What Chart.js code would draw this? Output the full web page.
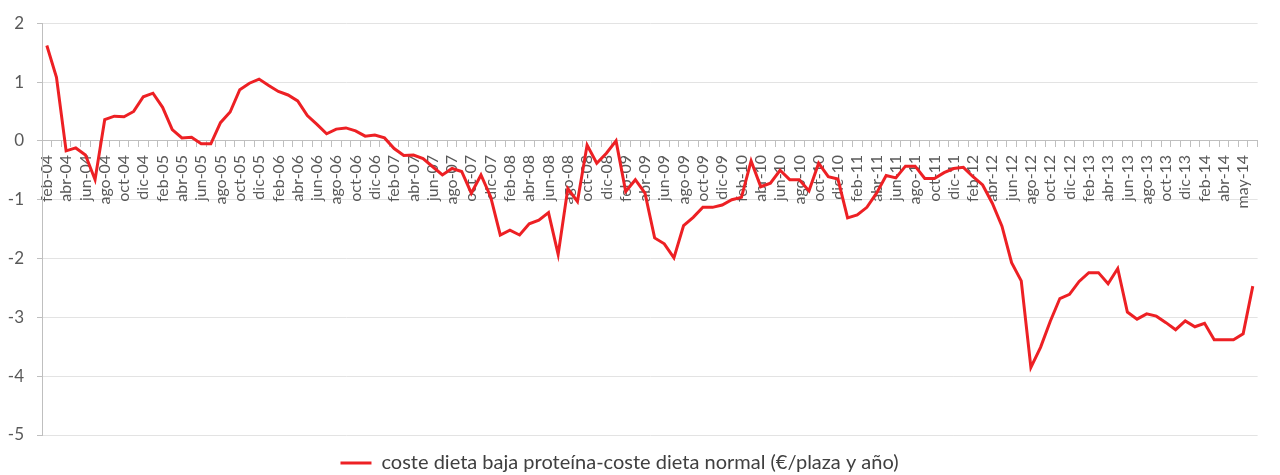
<!DOCTYPE html>
<html>
<head>
<meta charset="utf-8">
<script src="https://cdn.jsdelivr.net/npm/chart.js@4.4.1/dist/chart.umd.min.js"></script>
<style>
  html, body { margin: 0; padding: 0; background: #fff; }
  #wrap { width: 1280px; height: 475px; position: relative; }
</style>
</head>
<body>
<div id="wrap"><canvas id="chart"></canvas></div>
<script>
// categorías mensuales (eje X)
const categories = [
  'feb-04','mar-04','abr-04','may-04','jun-04','jul-04','ago-04','sep-04','oct-04','nov-04','dic-04',
  'ene-05','feb-05','mar-05','abr-05','may-05','jun-05','jul-05','ago-05','sep-05','oct-05','nov-05','dic-05',
  'ene-06','feb-06','mar-06','abr-06','may-06','jun-06','jul-06','ago-06','sep-06','oct-06','nov-06','dic-06',
  'ene-07','feb-07','mar-07','abr-07','may-07','jun-07','jul-07','ago-07','sep-07','oct-07','nov-07','dic-07',
  'ene-08','feb-08','mar-08','abr-08','may-08','jun-08','jul-08','ago-08','sep-08','oct-08','nov-08','dic-08',
  'ene-09','feb-09','mar-09','abr-09','may-09','jun-09','jul-09','ago-09','sep-09','oct-09','nov-09','dic-09',
  'ene-10','feb-10','mar-10','abr-10','may-10','jun-10','jul-10','ago-10','sep-10','oct-10','nov-10','dic-10',
  'ene-11','feb-11','mar-11','abr-11','may-11','jun-11','jul-11','ago-11','sep-11','oct-11','nov-11','dic-11',
  'ene-12','feb-12','mar-12','abr-12','may-12','jun-12','jul-12','ago-12','sep-12','oct-12','nov-12','dic-12',
  'ene-13','feb-13','mar-13','abr-13','may-13','jun-13','jul-13','ago-13','sep-13','oct-13','nov-13','dic-13',
  'ene-14','feb-14','mar-14','abr-14','abr-14','may-14','may-14'
];

// coste dieta baja proteína - coste dieta normal (€/plaza y año)
const costDiff = [
  1.62, 1.08, -0.17, -0.12, -0.24, -0.66, 0.36, 0.42, 0.41, 0.50, 0.75,
  0.81, 0.57, 0.19, 0.05, 0.06, -0.05, -0.05, 0.31, 0.49, 0.87, 0.98, 1.05,
  0.94, 0.84, 0.78, 0.68, 0.43, 0.28, 0.12, 0.20, 0.22, 0.17, 0.08, 0.10,
  0.05, -0.13, -0.25, -0.24, -0.30, -0.44, -0.58, -0.47, -0.52, -0.89, -0.58, -0.95,
  -1.60, -1.52, -1.60, -1.41, -1.35, -1.22, -1.93, -0.81, -1.03, -0.07, -0.38, -0.21,
  0.00, -0.86, -0.66, -0.89, -1.65, -1.75, -1.99, -1.44, -1.30, -1.13, -1.13, -1.09,
  -1.00, -0.96, -0.34, -0.78, -0.72, -0.50, -0.66, -0.66, -0.85, -0.38, -0.61, -0.65,
  -1.31, -1.26, -1.13, -0.89, -0.59, -0.63, -0.43, -0.43, -0.64, -0.64, -0.54, -0.47,
  -0.45, -0.61, -0.75, -1.06, -1.45, -2.07, -2.38, -3.85, -3.51, -3.07, -2.68, -2.61,
  -2.39, -2.24, -2.24, -2.43, -2.17, -2.91, -3.03, -2.94, -2.98, -3.09, -3.21, -3.06,
  -3.16, -3.10, -3.38, -3.38, -3.38, -3.28, -2.47
];

const yTicks = [-5, -4, -3, -2, -1, 0, 1, 2];
const seriesLabel = 'coste dieta baja proteína-coste dieta normal (€/plaza y año)';

// desplaza la leyenda un poco a la izquierda, como en el original
const legendShift = {
  id: 'legendShift',
  afterLayout(chart) {
    chart.legend.left -= 20;
    chart.legend.right -= 20;
  }
};

const ctx = document.getElementById('chart');
new Chart(ctx, {
  type: 'line',
  data: {
    labels: categories,
    datasets: [{
      label: seriesLabel,
      data: costDiff,
      borderColor: '#ED2024',
      backgroundColor: '#ED2024',
      borderWidth: 3,
      pointRadius: 0,
      tension: 0,
      pointStyle: 'line'
    }]
  },
  options: {
    responsive: true,
    maintainAspectRatio: false,
    animation: false,
    layout: { padding: { top: 21, right: 1, bottom: -8, left: 0 } },
    plugins: {
      tooltip: { enabled: false },
      legend: {
        position: 'bottom',
        labels: {
          usePointStyle: true,
          pointStyleWidth: 31,
          padding: 18,
          color: '#404040',
          font: { family: 'Lato', size: 20 }
        }
      }
    },
    scales: {
      x: {
        position: { y: 0 },
        offset: true,
        grid: {
          display: true,
          drawOnChartArea: false,
          drawTicks: true,
          tickLength: 6,
          offset: true,
          color: '#bfbfbf'
        },
        border: { display: true, color: '#bfbfbf', width: 1 },
        ticks: {
          autoSkip: false,
          maxRotation: 90,
          minRotation: 90,
          padding: 8,
          color: '#595959',
          font: { family: 'Lato', size: 16 },
          callback: function(val, i) {
            return i % 2 === 0 ? this.getLabelForValue(val) : '';
          }
        }
      },
      y: {
        min: -5,
        max: 2,
        afterBuildTicks: (scale) => {
          scale.ticks = yTicks.map(v => ({ value: v }));
        },
        afterFit: (scale) => { scale.width = 42; },
        grid: {
          color: '#e3e3e3',
          tickColor: '#bfbfbf',
          tickLength: 5
        },
        border: { display: true, color: '#bfbfbf', width: 1 },
        ticks: {
          padding: 13,
          color: '#595959',
          font: { family: 'Lato', size: 17 }
        }
      }
    }
  },
  plugins: [legendShift]
});
</script>
</body>
</html>
